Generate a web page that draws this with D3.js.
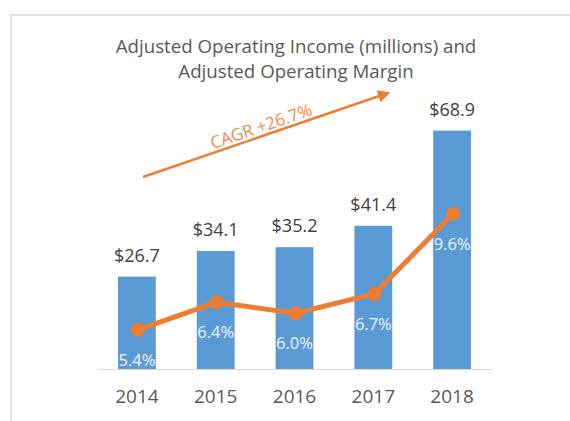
<!DOCTYPE html>
<html>
<head>
<meta charset="utf-8">
<script src="https://cdn.jsdelivr.net/npm/d3@7"></script>
<style>
  html, body { margin: 0; padding: 0; background: #ffffff; }
  svg { display: block; }
  text { font-family: "Open Sans", "Liberation Sans", sans-serif; }
</style>
</head>
<body>
<svg id="chart" width="570" height="421"></svg>
<script>
// ---- data ----
const years = ["2014", "2015", "2016", "2017", "2018"];
const income = [26.7, 34.1, 35.2, 41.4, 68.9];          // $ millions
const margin = [5.4, 6.4, 6.0, 6.7, 9.6];               // %
const titleLines = ["Adjusted Operating Income (millions) and", "Adjusted Operating Margin"];
const cagrLabel = "CAGR +26.7%";

// ---- styles ----
const barColor = "#5b9bd5";
const lineColor = "#ed7d31";
const textColor = "#595959";

const svg = d3.select("#chart");

// frame
svg.append("rect")
  .attr("x", 11).attr("y", 15)
  .attr("width", 600).attr("height", 450)
  .attr("fill", "none")
  .attr("stroke", "#e3e3e3")
  .attr("stroke-width", 2);

// scales
const baseY = 369;
const x = d3.scaleBand().domain(years).range([97.5, 491.5]).paddingInner(0.52).paddingOuter(0.26);
const y = d3.scaleLinear().domain([0, 80]).range([baseY, baseY - 80 * 3.46]);
const y2 = d3.scaleLinear().domain([0, 10]).range([479, 479 - 276.2]);

const rows = years.map((yr, i) => ({ yr, inc: income[i], m: margin[i] }));

// title
svg.append("g").selectAll("text").data(titleLines).join("text")
  .attr("x", 296).attr("y", (d, i) => 53 + i * 25)
  .attr("text-anchor", "middle")
  .attr("font-size", 18.7)
  .attr("fill", textColor)
  .text(d => d);

// bars
svg.append("g").selectAll("rect").data(rows).join("rect")
  .attr("x", d => x(d.yr))
  .attr("y", d => y(d.inc))
  .attr("width", x.bandwidth())
  .attr("height", d => y(0) - y(d.inc))
  .attr("fill", barColor);

// bar value labels
svg.append("g").selectAll("text").data(rows).join("text")
  .attr("x", d => x(d.yr) + x.bandwidth() / 2)
  .attr("y", d => y(d.inc) - 15)
  .attr("text-anchor", "middle")
  .attr("font-size", 18)
  .attr("fill", "#404040")
  .text(d => "$" + d3.format(".1f")(d.inc));

// x axis
const axis = svg.append("g")
  .attr("transform", `translate(0,${baseY})`)
  .call(d3.axisBottom(x).tickSize(0).tickPadding(21));
axis.select(".domain").attr("stroke", "#d9d9d9").attr("stroke-width", 1);
axis.selectAll("text")
  .attr("font-size", 19)
  .attr("fill", textColor)
  .style("font-family", "'Open Sans', sans-serif");

// margin line
const cx = d => x(d.yr) + x.bandwidth() / 2 + 1;
svg.append("path")
  .datum(rows)
  .attr("fill", "none")
  .attr("stroke", lineColor)
  .attr("stroke-width", 5)
  .attr("stroke-linejoin", "round")
  .attr("d", d3.line().x(cx).y(d => y2(d.m)));

svg.append("g").selectAll("circle").data(rows).join("circle")
  .attr("cx", cx)
  .attr("cy", d => y2(d.m))
  .attr("r", 7)
  .attr("fill", lineColor);

// margin labels
svg.append("g").selectAll("text").data(rows).join("text")
  .attr("x", d => x(d.yr) + x.bandwidth() / 2)
  .attr("y", d => y2(d.m) + 36)
  .attr("text-anchor", "middle")
  .attr("font-size", 16.5)
  .attr("fill", "#eef4fb")
  .text(d => d3.format(".1f")(d.m) + "%");

// CAGR arrow annotation
const a0 = [143, 177], a1 = [388, 93];
const defs = svg.append("defs");
defs.append("marker")
  .attr("id", "arrowhead")
  .attr("viewBox", "0 0 10 10")
  .attr("refX", 8).attr("refY", 5)
  .attr("markerWidth", 5).attr("markerHeight", 5)
  .attr("orient", "auto")
  .append("path")
  .attr("d", "M0,0 L10,5 L0,10 z")
  .attr("fill", lineColor);

svg.append("line")
  .attr("x1", a0[0]).attr("y1", a0[1])
  .attr("x2", a1[0]).attr("y2", a1[1])
  .attr("stroke", lineColor)
  .attr("stroke-width", 2.5)
  .attr("marker-end", "url(#arrowhead)");

const ang = Math.atan2(a1[1] - a0[1], a1[0] - a0[0]) * 180 / Math.PI;
svg.append("text")
  .attr("transform", `translate(263,132) rotate(${ang})`)
  .attr("text-anchor", "middle")
  .attr("font-size", 17)
  .attr("fill", "#f08a45")
  .text(cagrLabel);
</script>
</body>
</html>
